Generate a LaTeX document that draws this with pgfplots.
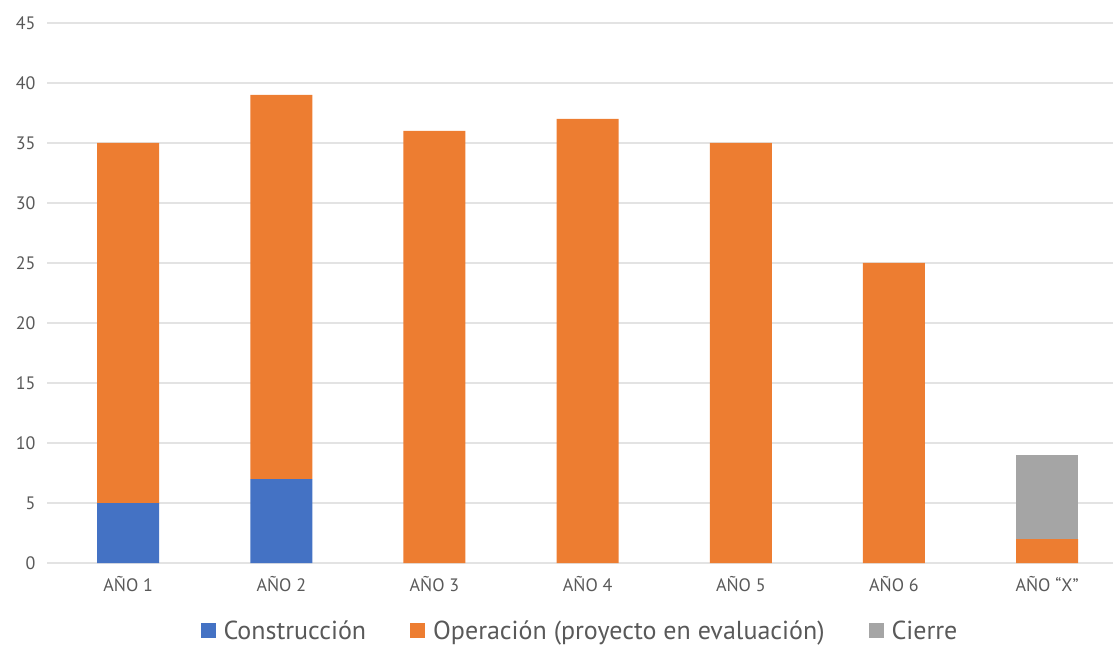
\documentclass[border=0pt]{standalone}
\usepackage{fontspec}
\setmainfont{PT Sans}
\usepackage{pgfplots}
\pgfplotsset{compat=1.18}
\definecolor{cblue}{HTML}{4472C4}
\definecolor{corange}{HTML}{ED7D31}
\definecolor{cgray}{HTML}{A5A5A5}
\definecolor{tickgray}{HTML}{595959}
\definecolor{gridgray}{HTML}{E3E3E3}
\begin{document}
\begin{tikzpicture}
\path[use as bounding box] (-47bp,-84bp) rectangle (1066bp,563bp);
\begin{axis}[
  at={(0,0)}, anchor=south west,
  scale only axis,
  width=1066bp, height=540bp,
  xmin=-0.53, xmax=6.43,
  ymin=0, ymax=45,
  ybar stacked,
  bar width=62bp,
  axis line style={draw=none},
  major tick length=0pt,
  ytick={0,5,...,45},
  xtick={0,...,6},
  xticklabels={AÑO 1,AÑO 2,AÑO 3,AÑO 4,AÑO 5,AÑO 6,AÑO “X”},
  ymajorgrids,
  grid style={gridgray, line width=1.2bp},
  /pgf/number format/assume math mode=true,
  yticklabel style={font=\fontsize{18bp}{20bp}\selectfont, text=tickgray, xshift=-8bp},
  xticklabel style={font=\fontsize{18bp}{20bp}\selectfont, text=tickgray, yshift=-10bp},
  legend style={at={(0.5,-80bp)}, anchor=south, draw=none, legend columns=3,
    font=\fontsize{26bp}{29bp}\selectfont, text=tickgray, fill=none,
    inner ysep=0bp,
    /tikz/every odd column/.append style={column sep=6bp},
    /tikz/every even column/.append style={column sep=42bp}},
  legend image code/.code={\fill[#1] (0bp,-7bp) rectangle (15bp,8bp);},
  clip=false,
]
\addplot[fill=cblue, draw=none] coordinates {(0,5) (1,7) (2,0) (3,0) (4,0) (5,0) (6,0)};
\addlegendentry{Construcción}
\addplot[fill=corange, draw=none] coordinates {(0,30) (1,32) (2,36) (3,37) (4,35) (5,25) (6,2)};
\addlegendentry{Operación (proyecto en evaluación)}
\addplot[fill=cgray, draw=none] coordinates {(0,0) (1,0) (2,0) (3,0) (4,0) (5,0) (6,7)};
\addlegendentry{Cierre}
\end{axis}
\end{tikzpicture}
\end{document}
